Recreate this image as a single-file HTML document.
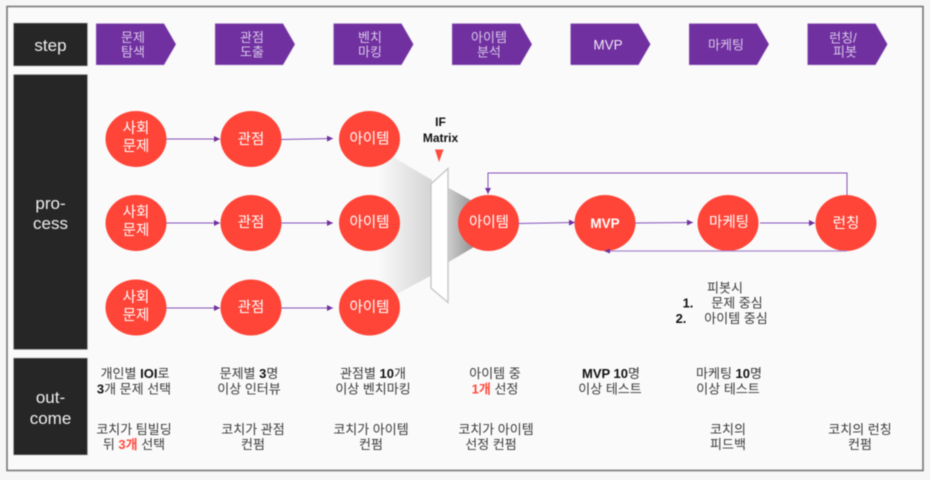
<!DOCTYPE html>
<html><head><meta charset="utf-8">
<style>
html,body{margin:0;padding:0;width:930px;height:480px;background:#f6f6f6;overflow:hidden}
svg{display:block;filter:blur(0.5px)}
text{font-family:"Liberation Sans","Noto Sans CJK KR",sans-serif;text-anchor:middle}
.st{font-size:17px;fill:#eee}
.ch{font-size:13px;fill:#d9c8ea}
.ci{font-size:14.5px;fill:#fff}
.o{font-size:13px;fill:#3a3a3a}
.b{font-weight:bold;fill:#111}
.r{fill:#ff4b40;font-weight:bold}
</style></head><body>
<svg width="930" height="480" viewBox="0 0 930 480" xmlns="http://www.w3.org/2000/svg">
<defs>
<linearGradient id="gl" gradientUnits="userSpaceOnUse" x1="378" y1="0" x2="432" y2="0"><stop offset="0" stop-color="#fafafa"/><stop offset="1" stop-color="#d4d4d4"/></linearGradient>
<linearGradient id="gr" gradientUnits="userSpaceOnUse" x1="447" y1="0" x2="475" y2="0"><stop offset="0" stop-color="#d0d0d0"/><stop offset="1" stop-color="#8f8f8f"/></linearGradient>
<marker id="a" markerWidth="7" markerHeight="6" refX="6" refY="3" orient="auto" markerUnits="userSpaceOnUse"><path d="M0 0L6 3L0 6z" fill="#7030a0"/></marker>
</defs>
<rect x="7" y="6.5" width="916" height="464" fill="#fafafa" stroke="#777" stroke-width="1.6"/>
<g fill="#262626" stroke="#bbb" stroke-width=".6">
<rect x="13.5" y="23" width="74" height="43"/>
<rect x="13.5" y="74.5" width="74" height="275"/>
<rect x="13.5" y="358" width="74" height="97"/>
</g>
<text class="st" x="50.5" y="51">step</text>
<text class="st" x="50.5" y="209">pro-</text>
<text class="st" x="50.5" y="229">cess</text>
<text class="st" x="50.5" y="403">out-</text>
<text class="st" x="50.5" y="424">come</text>

<g fill="#7030a0" stroke="#c9b3de" stroke-width=".5">
<path d="M96 23.500H164L176 44.300L164 65H96z"/>
<path d="M215 23.500H283L295 44.300L283 65H215z"/>
<path d="M333.500 23.500H401.500L413.500 44.300L401.500 65H333.500z"/>
<path d="M452 23.500H520L532 44.300L520 65H452z"/>
<path d="M570.500 23.500H638.500L650.500 44.300L638.500 65H570.500z"/>
<path d="M689 23.500H757L769 44.300L757 65H689z"/>
<path d="M807.500 23.500H875.500L887.500 44.300L875.500 65H807.500z"/>
</g>
<text class="ch" x="133" y="42">문제</text><text class="ch" x="133" y="56.500">탐색</text>
<text class="ch" x="252" y="42">관점</text><text class="ch" x="252" y="56.500">도출</text>
<text class="ch" x="370" y="42">벤치</text><text class="ch" x="370" y="56.500">마킹</text>
<text class="ch" x="489" y="42">아이템</text><text class="ch" x="489" y="56.500">분석</text>
<text class="ch" x="608" y="49.500" style="fill:#f0e8f7;font-size:13.500px">MVP</text>
<text class="ch" x="726" y="49.500">마케팅</text>
<text class="ch" x="843" y="42.500">런칭/</text><text class="ch" x="845" y="56.500">피봇</text>

<polygon points="393,157 432,180 432,275 397,294 378,290 378,160" fill="url(#gl)"/>
<polygon points="447,187 474,202 474,247 447,263" fill="url(#gr)"/>
<polygon points="431,184 448,168.500 448,302.500 431,288" fill="#fff" stroke="#c8c8c8" stroke-width="1.400"/>
<polygon points="435,149.500 443.500,149.500 439,162" fill="#ff4b40"/>
<text x="440.500" y="126" style="font-size:12px;font-weight:bold;fill:#111">IF</text>
<text x="440.500" y="142" style="font-size:12px;font-weight:bold;fill:#111">Matrix</text>

<g fill="#ff4538">
<ellipse cx="136" cy="139" rx="30.500" ry="28"/><ellipse cx="251" cy="139" rx="30.500" ry="28"/><ellipse cx="369.500" cy="139" rx="30.500" ry="28"/>
<ellipse cx="136" cy="223" rx="30.500" ry="28"/><ellipse cx="251" cy="223" rx="30.500" ry="28"/><ellipse cx="369.500" cy="223" rx="30.500" ry="28"/>
<ellipse cx="136" cy="307.500" rx="30.500" ry="28"/><ellipse cx="251" cy="307.500" rx="30.500" ry="28"/><ellipse cx="369.500" cy="307.500" rx="30.500" ry="28"/>
<ellipse cx="488.500" cy="223" rx="30.500" ry="28"/><ellipse cx="605" cy="223" rx="30.500" ry="28"/><ellipse cx="728" cy="223" rx="30.500" ry="28"/><ellipse cx="846" cy="223" rx="30.500" ry="28"/>
</g>

<g fill="none" stroke="#8452bb" stroke-width="1" marker-end="url(#a)">
<path d="M166 139H220"/><path d="M281 139.500L333 138.500"/>
<path d="M166 223H220"/><path d="M281 223H333"/>
<path d="M166 308H220"/><path d="M281 308H333"/>
<path d="M518 223.500L575 222.500"/><path d="M635 223L693 222.500"/><path d="M760 223H815"/>
<path d="M847 195V173H488V194"/>
</g>
<path d="M847 251H606" fill="none" stroke="#ab88cf" stroke-width="1.300"/>
<path d="M604 251L610 248.500V253.500z" fill="#7030a0"/>

<text class="ci" x="136" y="133">사회</text><text class="ci" x="136" y="151">문제</text>
<text class="ci" x="136" y="217">사회</text><text class="ci" x="136" y="235">문제</text>
<text class="ci" x="136" y="302">사회</text><text class="ci" x="136" y="320">문제</text>
<text class="ci" x="251" y="144">관점</text><text class="ci" x="251" y="227">관점</text><text class="ci" x="251" y="312">관점</text>
<text class="ci" x="369.500" y="143.500">아이템</text><text class="ci" x="369.500" y="227">아이템</text><text class="ci" x="369.500" y="312">아이템</text>
<text class="ci" x="489" y="227">아이템</text>
<text class="ci" x="605" y="228" style="font-weight:bold;font-size:13.500px">MVP</text>
<text class="ci" x="729" y="227">마케팅</text>
<text class="ci" x="846" y="228">런칭</text>

<text class="o" x="725" y="292.500">피봇시</text>
<text class="o" x="688" y="307.500"><tspan class="b">1.</tspan></text><text class="o" x="737" y="307.500">문제 중심</text>
<text class="o" x="681" y="323"><tspan class="b">2.</tspan></text><text class="o" x="736" y="323">아이템 중심</text>

<text class="o" x="135" y="378">개인별 <tspan class="b">IOI</tspan>로</text>
<text class="o" x="134" y="393.500"><tspan class="b">3</tspan>개 문제 선택</text>
<text class="o" x="134" y="434">코치가 팀빌딩</text>
<text class="o" x="134" y="449">뒤 <tspan class="r">3개</tspan> 선택</text>

<text class="o" x="249" y="378">문제별 <tspan class="b">3</tspan>명</text>
<text class="o" x="249" y="393.500">이상 인터뷰</text>
<text class="o" x="253" y="434">코치가 관점</text>
<text class="o" x="253" y="449">컨펌</text>

<text class="o" x="373" y="378">관점별 <tspan class="b">10</tspan>개</text>
<text class="o" x="373" y="393.500">이상 벤치마킹</text>
<text class="o" x="371" y="434">코치가 아이템</text>
<text class="o" x="371" y="449">컨펌</text>

<text class="o" x="495" y="378">아이템 중</text>
<text class="o" x="495" y="393.500"><tspan class="r">1개</tspan> 선정</text>
<text class="o" x="496" y="434">코치가 아이템</text>
<text class="o" x="491" y="449">선정 컨펌</text>

<text class="o" x="611" y="378"><tspan class="b">MVP 10</tspan>명</text>
<text class="o" x="610" y="393.500">이상 테스트</text>

<text class="o" x="729" y="378">마케팅 <tspan class="b">10</tspan>명</text>
<text class="o" x="728" y="393.500">이상 테스트</text>
<text class="o" x="728" y="434">코치의</text>
<text class="o" x="728" y="449">피드백</text>

<text class="o" x="860" y="434">코치의 런칭</text>
<text class="o" x="860" y="449">컨펌</text>
</svg>
</body></html>
